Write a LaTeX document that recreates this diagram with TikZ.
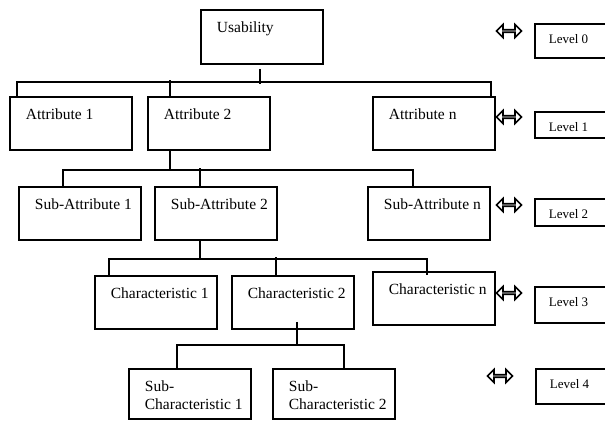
\documentclass[tikz,border=0pt]{standalone}
\usepackage{fontspec}
\setmainfont{Liberation Serif}
\usetikzlibrary{shapes.arrows}
\newlength\Cellwd
\setlength\Cellwd{122pt}
\newlength\Lvlwd
\setlength\Lvlwd{75pt}
\newcommand\Cellbox[2]{%
  \parbox[c][#1][t]{\Cellwd}{\raggedright\leftskip=16pt\rule{0pt}{23pt}#2}}
\newcommand\Lvlbox[2]{%
  \parbox[c][#1][t]{\Lvlwd}{\raggedright\leftskip=14pt\rule{0pt}{19.5pt}#2}}

\begin{document}
\begin{tikzpicture}[x=1pt, y=-1pt,
cell/.style={
  draw, line width=1.8pt,
  inner sep=0pt, anchor=north west,
  font=\fontsize{15.5}{18}\selectfont
},
lvl/.style={
  draw, line width=1.8pt,
  inner sep=0pt, anchor=north west,
  font=\fontsize{13}{15}\selectfont
},
twoway/.style={
  double arrow, draw, line width=1.6pt,
  minimum height=25pt, minimum width=13pt,
  double arrow head extend=3.5pt, inner sep=0pt
},
link/.style={line width=1.8pt}]

\useasboundingbox (0,0) rectangle (605,421);
\clip (0,0) rectangle (605,421);

\node (use) [cell] at (200,9) {\Cellbox{54pt}{Usability}};

\node (att1) [cell] at (9,96) {\Cellbox{53pt}{Attribute 1}};
\node (att2) [cell] at (147,96) {\Cellbox{53pt}{Attribute 2}};
\node (attn) [cell] at (372,96) {\Cellbox{53pt}{Attribute n}};

\node (sub1) [cell] at (18,186) {\Cellbox{53pt}{Sub-Attribute 1}};
\node (sub2) [cell] at (154,186) {\Cellbox{53pt}{Sub-Attribute 2}};
\node (subn) [cell] at (367,186) {\Cellbox{53pt}{Sub-Attribute n}};

\node (chr1) [cell] at (94,275) {\Cellbox{53pt}{Characteristic 1}};
\node (chr2) [cell] at (231,275) {\Cellbox{53pt}{Characteristic 2}};
\node (chrn) [cell] at (372,271) {\Cellbox{53pt}{Characteristic n}};

\node (sch1) [cell] at (128,368) {\Cellbox{50pt}{Sub-\\Characteristic 1}};
\node (sch2) [cell] at (272,368) {\Cellbox{50pt}{Sub-\\Characteristic 2}};

% levels on the right
\node (lv0) [lvl] at (534,23) {\Lvlbox{34pt}{Level 0}};
\node (lv1) [lvl] at (534,111) {\Lvlbox{26pt}{Level 1}};
\node (lv2) [lvl] at (534,198) {\Lvlbox{27pt}{Level 2}};
\node (lv3) [lvl] at (534,286) {\Lvlbox{36pt}{Level 3}};
\node (lv4) [lvl] at (535,368) {\Lvlbox{35pt}{Level 4}};

\node (ar0) [twoway] at (509,31) {};
\node (ar1) [twoway] at (509,117) {};
\node (ar2) [twoway] at (509,205) {};
\node (ar3) [twoway] at (509,293) {};
\node (ar4) [twoway] at (500,376) {};

% level 0 -> level 1
\draw [link] ([xshift=-2pt,yshift=-4pt]use.south) -- ++(0,15);
\coordinate (bus1) at ([xshift=-2pt,yshift=-17pt]use.south);
\draw [link] ([xshift=8pt]att1.north west) |- (bus1)
  -| ([xshift=-5pt,yshift=-1pt]attn.north east);
\draw [link] ([xshift=23pt]att2.north west) -- ++(0,-16);

% level 1 -> level 2
\draw [link] ([xshift=23pt]att2.south west) -- ++(0,19) coordinate (bus2);
\draw [link] ([xshift=45pt]sub1.north west) |- (bus2)
  -| ([xshift=46pt]subn.north west);
\draw [link] ([xshift=46pt]sub2.north west) -- ++(0,-18);

% level 2 -> level 3
\draw [link] ([xshift=46pt]sub2.south west) -- ++(0,18) coordinate (bus3);
\draw [link] ([xshift=15pt]chr1.north west) |- (bus3)
  -| ([xshift=55pt,yshift=-4pt]chrn.north west);
\draw [link] ([xshift=45pt]chr2.north west) -- ++(0,-18);

% level 3 -> level 4
\draw [link] ([xshift=66pt,yshift=8pt]chr2.south west) -- ++(0,23) coordinate (bus4);
\draw [link] ([xshift=49pt]sch1.north west) |- (bus4)
  -| ([xshift=72pt]sch2.north west);
\end{tikzpicture}
\end{document}
